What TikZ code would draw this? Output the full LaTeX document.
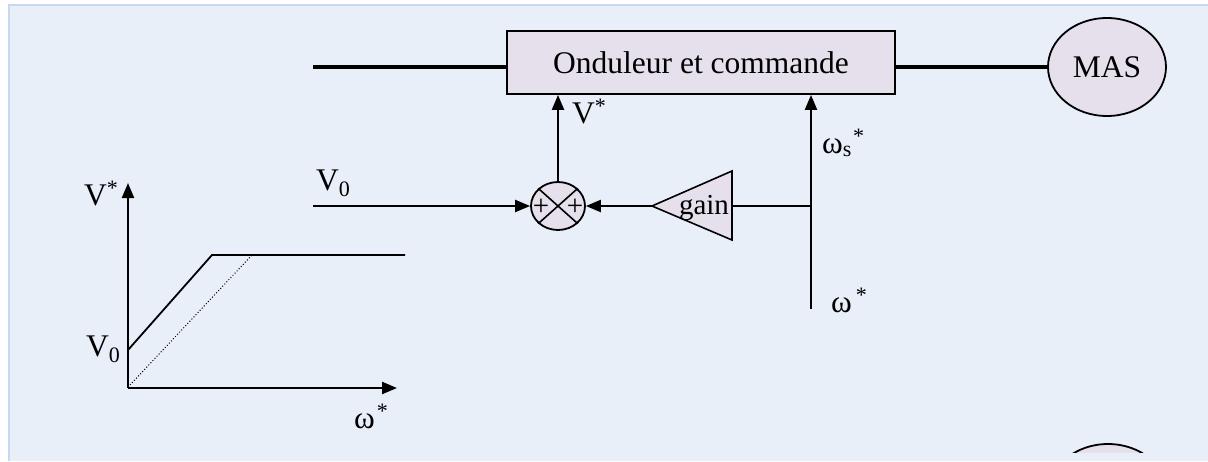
\documentclass[tikz,border=0pt]{standalone}
\usepackage{fontspec}
\setmainfont{Liberation Serif}
\usetikzlibrary{arrows.meta,shapes.geometric}
\definecolor{bgc}{HTML}{E8EFF9}
\definecolor{bordc}{HTML}{C6D9F1}
\definecolor{lav}{HTML}{E6E0EC}
\tikzset{
  lbl/.style={anchor=base west, inner sep=0pt, font=\fontsize{31.5}{35}\selectfont},
  wire/.style={line width=2.2pt},
  thickwire/.style={line width=3.5pt},
  arr/.style={wire, -{Triangle[length=15pt,width=12pt]}},
  blockbox/.style={draw, line width=1.8pt, fill=lav, minimum width=388pt, minimum height=63pt, inner sep=0pt, font=\fontsize{31.5}{35}\selectfont},
  blob/.style={draw, ellipse, line width=1.8pt, fill=lav, inner sep=0pt}
}
\begin{document}
\begin{tikzpicture}[x=1pt,y=-1pt]
\useasboundingbox (0,0) rectangle (1208,461);
\fill[bgc] (8,4) rectangle (1208,461);
\draw[bordc, line width=2pt] (9,461) -- (9,5) -- (1208,5);

% blocks
\node[blockbox] (box) at (701,62.5) {Onduleur et commande};
\node[blob, minimum width=118pt, minimum height=98pt, font=\fontsize{31.5}{35}\selectfont] (mas) at (1107,67) {MAS};
\begin{scope}
\clip (1000,400) rectangle (1208,452);
\node[blob, minimum width=118pt, minimum height=98pt] (mas2) at (1108,493) {};
\end{scope}
\node[blob, minimum width=54pt, minimum height=48pt] (sum) at (558,206) {};
\draw[line width=1.6pt] (sum.north west) -- (sum.south east) (sum.north east) -- (sum.south west);
\node[font=\fontsize{29}{30}\selectfont, inner sep=0pt] (pl) at (541,207) {+};
\node[font=\fontsize{29}{30}\selectfont, inner sep=0pt] (pr) at (575,207) {+};

% gain triangle
\coordinate (gtip) at (652,206);
\coordinate (gbase) at (732,206);
\draw[line width=1.6pt, fill=lav] (gtip) -- (732,171) -- (732,240) -- cycle;
\node[font=\fontsize{29}{30}\selectfont, inner sep=0pt, anchor=base] (gain) at (704,214) {gain};

% connectors
\coordinate (inL) at (313,67);
\draw[thickwire] (inL) -- (inL -| box.west);
\draw[thickwire] (box.east |- mas.west) -- (mas.west);
\draw[arr] (sum.north) -- (sum.north |- box.south);
\coordinate (wbot) at (811,309);
\draw[arr] (wbot) -- (wbot |- box.south);
\draw[wire] (wbot |- gbase) -- (gbase);
\draw[arr] (gtip) -- (sum.east);
\coordinate (v0in) at (313,206);
\draw[arr] (v0in) -- (sum.west);

% labels of block diagram
\node[lbl] (lvs) at (572,123) {V\textsuperscript{*}};
\node[lbl] (lws) at (822,153) {ω\textsubscript{s}\kern1pt\textsuperscript{*}};
\node[lbl] (lw) at (831,312) {ω\kern4pt\textsuperscript{*}};
\node[lbl] (lv0) at (316,190) {V\textsubscript{0}};

% characteristic graph
\coordinate (O) at (128,388);
\coordinate (ytop) at (128,183);
\coordinate (xend) at (397,388);
\draw[arr] (O) -- (ytop);
\draw[arr] (O) -- (xend);
\coordinate (c0) at (128,350);
\coordinate (c1) at (212,255);
\coordinate (c2) at (405,255);
\draw[line width=1.8pt] (c0) -- (c1) -- (c2);
\coordinate (d0) at (130,385);
\coordinate (d1) at (252,255);
\draw[line width=1pt, dotted] (d0) -- (d1);
\node[lbl] (avs) at (84,205) {V\textsuperscript{*}};
\node[lbl] (av0) at (86,356) {V\textsubscript{0}};
\node[lbl] (aw) at (354,428) {ω\kern2pt\textsuperscript{*}};
\end{tikzpicture}
\end{document}
